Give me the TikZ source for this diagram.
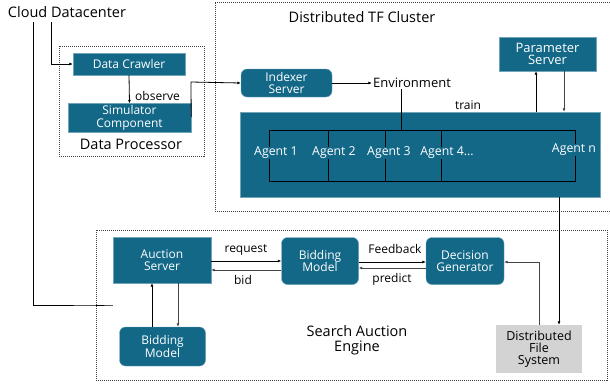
\documentclass[tikz,border=0pt]{standalone}
\usepackage{fontspec}
\setmainfont{Open Sans}
\usetikzlibrary{arrows.meta,calc}
\definecolor{bluebox}{HTML}{136888}
\definecolor{dfsgray}{HTML}{D3D3D3}
\definecolor{arrgray}{HTML}{444444}
\tikzset{
  bx/.style={fill=bluebox,text=white,draw=bluebox!60!white,line width=0.4pt,align=center,font=\fontsize{12}{12.5}\selectfont,inner sep=0pt},
  sharpbx/.style={bx},
  roundbx/.style={bx,rounded corners=6pt},
  dashbox/.style={draw=black!75,dash pattern=on 1pt off 1pt,line width=0.7pt},
  conn/.style={line width=0.8pt,draw=black},
  arr/.style={conn,-{Latex[length=3.5pt,width=3pt]}},
  garr/.style={arr,draw=arrgray},
  lbl/.style={font=\fontsize{12}{13}\selectfont,inner sep=0pt},
  ttl/.style={font=\fontsize{14.5}{15}\selectfont,inner sep=0pt},
  agent/.style={fill=bluebox,text=white,font=\fontsize{12.3}{13}\selectfont,inner sep=0.5pt},
}
\begin{document}
\begin{tikzpicture}[x=1pt,y=-1pt]
\useasboundingbox (0,0) rectangle (610,383);
% containers
\draw[dashbox] (59,46) rectangle (204,156);
\draw[dashbox] (215,2) -- (612,2) (612,211) -- (215,211) -- (215,2);
\draw[dashbox] (96,230) rectangle (607,380);
% titles
\node[ttl] (cloud) at (67,12) {Cloud Datacenter};
\node[ttl] (dptitle) at (131,144) {Data Processor};
\node[ttl] (tftitle) at (362,17) {Distributed TF Cluster};
\node[ttl,align=center,font=\fontsize{14.5}{15}\selectfont] (saetitle) at (357,340) {Search Auction\\Engine};
% data processor
\node[sharpbx,minimum width=112pt,minimum height=22pt] (crawler) at (129,64) {Data Crawler};
\node[sharpbx,minimum width=123pt,minimum height=29pt] (sim) at (129.5,118) {Simulator\\Component};
% TF cluster
\node[roundbx,minimum width=91pt,minimum height=28pt] (indexer) at (286.5,83) {Indexer\\Server};
\node[font=\fontsize{13}{14}\selectfont,inner sep=1pt] (env) at (412,83) {Environment};
\node[sharpbx,minimum width=97pt,minimum height=34pt,font=\fontsize{13}{12.5}\selectfont] (param) at (547.5,54) {Parameter\\Server};
\node[sharpbx,minimum width=360pt,minimum height=85pt] (cluster) at (420.5,154.5) {};
\draw[conn] (269,130) rectangle (575,181);
\coordinate (d1) at (328,130);
\coordinate (d2) at (385,130);
\coordinate (d3) at (441,130);
\draw[conn] (d1) -- (328,181) (d2) -- (385,181) (d3) -- (441,181);
\node[agent] (a1) at (276,153) {Agent 1};
\node[agent] (a2) at (334,153) {Agent 2};
\node[agent] (a3) at (389,153) {Agent 3};
\node[agent] (a4) at (447,153) {Agent 4...};
\node[agent] (an) at (574,150) {Agent n};
\node[lbl] (train) at (468,105) {train};
% search auction engine
\node[sharpbx,minimum width=98pt,minimum height=46pt] (auction) at (162,260) {Auction\\Server};
\node[roundbx,minimum width=77pt,minimum height=47pt] (bid) at (320,261) {Bidding\\Model};
\node[roundbx,minimum width=78pt,minimum height=47pt] (dec) at (465,261) {Decision\\Generator};
\node[roundbx,minimum width=86pt,minimum height=39pt] (bid2) at (162.5,346.5) {Bidding\\Model};
\node[fill=dfsgray,text=black,align=center,font=\fontsize{12.5}{12}\selectfont,minimum width=86pt,minimum height=48pt,inner sep=0pt] (dfs) at (539,349) {Distributed\\File\\System};
\node[lbl] (lreq) at (246,250) {request};
\node[lbl] (lbid) at (243,280) {bid};
\node[lbl] (lfb) at (395,249) {Feedback};
\node[lbl] (lpred) at (392,279) {predict};
\node[lbl,anchor=west] (lobs) at (135,96) {observe};
% connectors
\coordinate (c1) at (33,22);
\coordinate (c2) at (51,22);
\draw[conn] (c1) |- (auction.west |- 0,305) -- (96,305);
\draw[arr] (c2) |- (crawler.west);
\draw[arr] (crawler.south) -- (sim.north);
\draw[arr] (sim.east |- 0,117) -- (191,82) -- (indexer.west);
\draw[arr] (indexer.east) -- (env.west);
\draw[conn] (env.south -| 401,0) -- (401,130);
\draw[arr] (cluster.north -| 536,0) -- (param.south -| 536,0);
\draw[garr] (param.south -| 564,0) -- (cluster.north -| 564,0);
\draw[arr] (cluster.south -| 559,0) -- (dfs.north -| 559,0);
\draw[arr] (auction.east |- 0,261) -- (bid.west |- 0,261);
\draw[garr] (bid.west |- 0,270) -- (auction.east |- 0,270);
\draw[arr] (bid.east |- 0,262) -- (dec.west |- 0,262);
\draw[garr] (dec.west |- 0,268) -- (bid.east |- 0,268);
\draw[garr] (dfs.north -| 539,0) |- (dec.east |- 0,262);
\draw[arr] (bid2.north -| 152,0) -- (auction.south -| 152,0);
\draw[garr] (auction.south -| 178,0) -- (bid2.north -| 178,0);
\end{tikzpicture}
\end{document}
